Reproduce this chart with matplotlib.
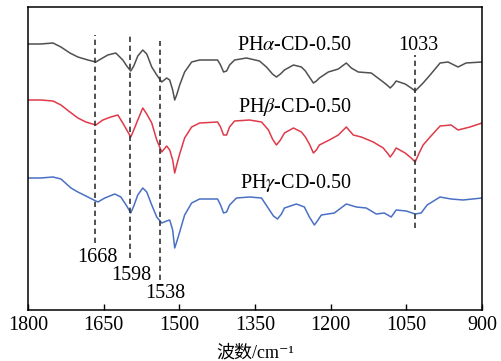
import matplotlib
matplotlib.use("Agg")
import matplotlib.pyplot as plt

plt.rcParams['mathtext.fontset'] = 'stix'
plt.rcParams['font.family'] = ['Liberation Serif', 'Noto Sans CJK SC', 'DejaVu Sans']

# ---- data (y = relative transmittance, offset per curve) ----
wn_a = [1800, 1775, 1750.5, 1734.7, 1716.9, 1701.1, 1681.3, 1665.5, 1655.6, 1641.8, 1625.9,
        1612.1, 1604.2, 1596.3, 1590.3, 1582.4, 1572.5, 1564.6, 1554.7, 1544.8, 1534.9, 1525.1,
        1519.1, 1513.2, 1509.2, 1505.3, 1499.3, 1489.5, 1475.6, 1459.8, 1424.2, 1418.3, 1412.3,
        1406.3, 1400.4, 1390.5, 1366.8, 1341.1, 1327.3, 1315.4, 1307.5, 1299.6, 1291.6, 1273.8,
        1258.0, 1250.1, 1242.2, 1234.3, 1228.3, 1222.4, 1204.6, 1184.8, 1169.0, 1159.1, 1145.3,
        1119.6, 1095.8, 1086.0, 1082.0, 1076.1, 1070.1, 1052.3, 1040.4, 1032.5, 1024.6, 1016.7,
        1002.9, 983.1, 967.3, 947.5, 931.7, 900]
y_a = [266, 266, 267, 263, 257, 253, 250, 248, 251, 255, 257,
       250, 244, 239, 244, 254, 260, 256, 243, 235, 228, 232,
       230, 220, 210, 215, 225, 238, 248, 250, 250, 245, 238,
       239, 245, 250, 252, 249, 243, 236, 233, 236, 240, 245,
       243, 239, 233, 227, 229, 232, 238, 241, 247, 242, 238,
       237, 228, 224, 222, 225, 229, 226, 222, 219, 223, 227,
       235, 247, 248, 243, 247, 248]

wn_b = [1800, 1775, 1750.5, 1734.7, 1716.9, 1701.1, 1685.3, 1665.5, 1651.6, 1635.8, 1621.9,
        1612.1, 1604.2, 1596.3, 1590.3, 1582.4, 1572.5, 1564.6, 1554.7, 1544.8, 1534.9, 1525.1,
        1519.1, 1513.2, 1509.2, 1505.3, 1499.3, 1489.5, 1475.6, 1459.8, 1424.2, 1418.3, 1412.3,
        1406.3, 1400.4, 1390.5, 1360.9, 1337.1, 1323.3, 1315.4, 1307.5, 1299.6, 1291.6, 1273.8,
        1258.0, 1250.1, 1242.2, 1234.3, 1228.3, 1222.4, 1202.6, 1184.8, 1169.0, 1155.2, 1139.3,
        1115.6, 1095.8, 1086.0, 1082.0, 1076.1, 1070.1, 1052.3, 1040.4, 1032.5, 1024.6, 1016.7,
        1002.9, 983.1, 961.3, 947.5, 923.8, 900]
y_b = [210, 210, 209, 205, 198, 192, 188, 185, 190, 193, 195,
       187, 180, 173, 180, 190, 202, 196, 187, 170, 158, 164,
       160, 150, 137, 145, 156, 172, 183, 187, 188, 183, 175,
       175, 183, 189, 190, 188, 180, 171, 165, 170, 177, 182,
       178, 173, 166, 157, 160, 165, 170, 175, 183, 175, 173,
       168, 162, 156, 153, 157, 162, 157, 152, 148, 157, 165,
       173, 184, 185, 180, 183, 187]

wn_g = [1800, 1775, 1750.5, 1734.7, 1714.9, 1701.1, 1681.3, 1661.5, 1647.7, 1627.9, 1616.0,
        1604.2, 1596.3, 1590.3, 1582.4, 1572.5, 1564.6, 1554.7, 1544.8, 1534.9, 1525.1, 1519.1,
        1513.2, 1509.2, 1505.3, 1499.3, 1489.5, 1475.6, 1459.8, 1424.2, 1418.3, 1412.3, 1406.3,
        1400.4, 1386.6, 1360.9, 1337.1, 1321.3, 1313.4, 1305.5, 1297.6, 1291.6, 1267.9, 1252.1,
        1242.2, 1232.3, 1226.4, 1218.5, 1192.7, 1169.0, 1149.2, 1129.5, 1109.7, 1093.8, 1080.0,
        1070.1, 1050.3, 1032.5, 1020.6, 1008.8, 983.1, 961.3, 937.6, 900]
y_g = [132, 132, 133, 131, 122, 118, 113, 108, 112, 116, 113,
       104, 97, 104, 115, 122, 118, 105, 93, 87, 89, 90,
       80, 62, 68, 78, 95, 107, 111, 111, 105, 97,
       98, 105, 112, 113, 112, 100, 94, 91, 96, 102, 106, 103,
       93, 85, 89, 95, 97, 106, 103, 102, 96, 97, 93,
       100, 99, 96, 97, 105, 113, 111, 110, 112]

series_labels = [r'PH$\alpha$-CD-0.50', r'PH$\beta$-CD-0.50', r'PH$\gamma$-CD-0.50']
series_colors = ['#505050', '#e03a4a', '#4a70c4']
label_pos = [(1386.6, 265), (1384.6, 203), (1380.6, 127)]

peak_wn = [1668, 1598, 1538, 1033]
peak_text = ['1668', '1598', '1538', '1033']
peak_line_span = [(67, 275), (52, 277), (30, 269), (82, 255)]
peak_text_pos = [(1663, 53), (1596, 35), (1527, 17), (1027, 265)]

xticks = [1800, 1650, 1500, 1350, 1200, 1050, 900]

# ---- figure ----
fig = plt.figure(figsize=(5.02, 3.61), dpi=100)
ax = fig.add_axes([28/502, 1 - 310/361, (482 - 28)/502, (310 - 7)/361])

for wn, y, c in zip([wn_a, wn_b, wn_g], [y_a, y_b, y_g], series_colors):
    ax.plot(wn, y, color=c, lw=1.1, solid_joinstyle='round')

for (x, y), lab in zip(label_pos, series_labels):
    ax.text(x, y, lab, fontsize=14.5, ha='left', va='center', color='black')

for w, (y0, y1), t, (tx, ty) in zip(peak_wn, peak_line_span, peak_text, peak_text_pos):
    ax.plot([w, w], [y0, y1], color='#333333', lw=1.2, linestyle=(0, (3.2, 2.2)))
    ax.text(tx, ty, t, fontsize=14.5, ha='center', va='center', color='black')

ax.set_xlim(1800, 900)
ax.set_ylim(0, 303)
ax.set_xticks(xticks)
ax.set_xticklabels([str(v) for v in xticks])
ax.set_yticks([])
ax.tick_params(axis='x', direction='in', length=4, width=1.0, labelsize=14.5, pad=4)
for s in ax.spines.values():
    s.set_linewidth(1.1)
    s.set_color('black')

ax.set_xlabel('波数/cm⁻¹', fontsize=13, labelpad=7)

fig.savefig('out.png', dpi=100)
